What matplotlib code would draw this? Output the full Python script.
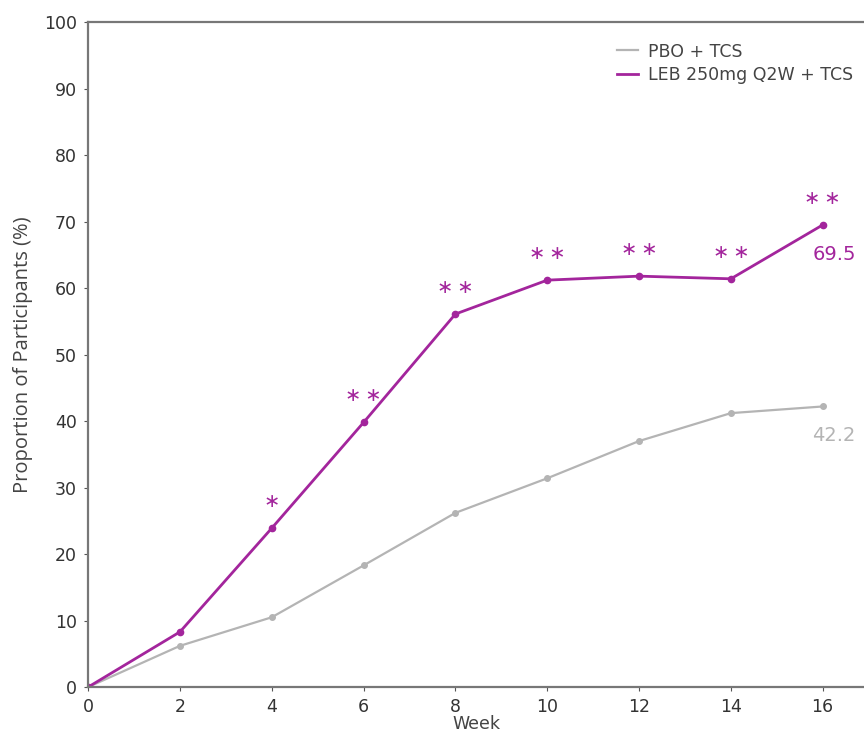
import numpy as np
import matplotlib
matplotlib.use("Agg")
import matplotlib.pyplot as plt

# Daten
weeks = [0, 2, 4, 6, 8, 10, 12, 14, 16]
pbo = [0, 6.2, 10.5, 18.3, 26.2, 31.4, 37.0, 41.2, 42.2]
leb = [0, 8.3, 23.9, 39.8, 56.1, 61.2, 61.8, 61.4, 69.5]
sig = ["", "", "*", "**", "**", "**", "**", "**", "**"]

c_leb = "#a3259c"
c_pbo = "#b4b4b4"

fig = plt.figure(figsize=(8.64, 7.38), dpi=100)
ax = fig.add_axes([0.102, 0.069, 0.898, 0.901])

ax.plot(weeks, pbo, color=c_pbo, lw=1.6, marker="o", ms=4, label="PBO + TCS")
ax.plot(weeks, leb, color=c_leb, lw=2.0, marker="o", ms=4.5, label="LEB 250mg Q2W + TCS")

# Signifikanzsterne
for w, v, s in zip(weeks, leb, sig):
    if s:
        ax.text(w, v + 2.6, "\u2009".join("\u2217" * len(s)), color=c_leb, fontsize=14,
                ha="center", va="bottom")

ax.text(16.25, leb[-1] - 3.0, "69.5", color=c_leb, fontsize=14, ha="center", va="top")
ax.text(16.25, pbo[-1] - 3.0, "42.2", color=c_pbo, fontsize=14, ha="center", va="top")

ax.set_xlim(0, 16.9)
ax.set_ylim(0, 100)
ax.set_xticks(range(0, 17, 2))
ax.set_yticks(range(0, 101, 10))
ax.tick_params(labelsize=12.5, length=3, pad=5, colors="#555555", labelcolor="#333333")
for s in ["left", "bottom", "top"]:
    ax.spines[s].set_color("#777777")
    ax.spines[s].set_linewidth(1.6)
ax.spines["right"].set_visible(False)

ax.set_xlabel("Week", fontsize=12.5, color="#444444", labelpad=-1)
ax.set_ylabel("Proportion of Participants (%)", fontsize=14.5, color="#444444",
              labelpad=8, family=["Open Sans", "DejaVu Sans"])

leg = ax.legend(loc="upper right", bbox_to_anchor=(1.0, 0.985), frameon=False,
                fontsize=12.5, handlelength=1.2, handletextpad=0.6,
                labelspacing=0.3, borderaxespad=0.2)
for t in leg.get_texts():
    t.set_color("#444444")
for h in leg.legend_handles:
    h.set_marker("")

fig.savefig("out.png", dpi=100)
